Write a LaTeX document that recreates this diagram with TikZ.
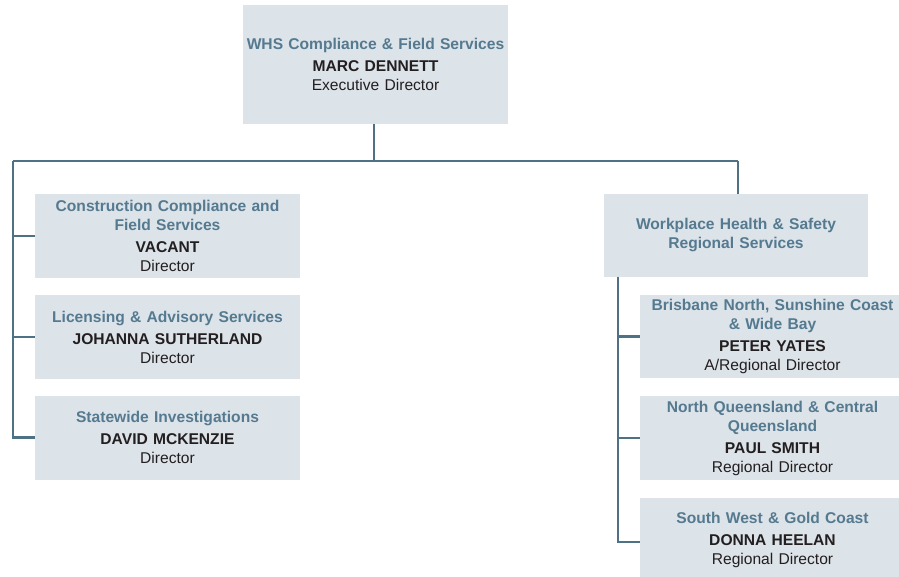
\documentclass[tikz,border=0pt]{standalone}
\usepackage{fontspec}
\setmainfont{Liberation Sans}
\definecolor{boxfill}{HTML}{DCE3E9}
\definecolor{titleblue}{HTML}{557A90}
\definecolor{linecol}{HTML}{4E7186}
\definecolor{namecol}{HTML}{231F20}
\tikzset{
  orgbox/.style={fill=boxfill, draw=none, minimum width=265pt, minimum height=84pt,
    text width=262pt, align=center, inner sep=0pt,
    font=\fontsize{15.6}{19}\selectfont, text=namecol},
  conn/.style={draw=linecol, line width=2.8pt},
}
\newcommand{\ttl}[1]{{\color{titleblue}\bfseries #1}}
\newcommand{\nm}[1]{{\bfseries #1}}
\begin{document}
\begin{tikzpicture}[x=1pt,y=-1pt]
\useasboundingbox (0,0) rectangle (899,577);
\clip (0,0) rectangle (899,577);
% top
\node[orgbox, minimum height=119pt] (top) at (375.5,64.5)
  {\ttl{WHS Compliance \& Field Services}\\[3pt]\nm{MARC DENNETT}\\Executive Director};
% left column
\node[orgbox] (c1) at (167.5,236)
  {\ttl{Construction Compliance and\\Field Services}\\[3pt]\nm{VACANT}\\Director};
\node[orgbox] (c2) at (167.5,337)
  {\ttl{Licensing \& Advisory Services}\\[3pt]\nm{JOHANNA SUTHERLAND}\\Director};
\node[orgbox] (c3) at (167.5,437.5)
  {\ttl{Statewide Investigations}\\[3pt]\nm{DAVID MCKENZIE}\\Director};
% right column
\node[orgbox, minimum width=264pt, minimum height=83pt] (whs) at (736,235.5)
  {\ttl{Workplace Health \& Safety\\Regional Services}};
\node[orgbox, minimum height=83pt] (r1) at (772.5,336.5)
  {\ttl{Brisbane North, Sunshine Coast\\\& Wide Bay}\\[3pt]\nm{PETER YATES}\\A/Regional Director};
\node[orgbox] (r2) at (772.5,438)
  {\ttl{North Queensland \& Central\\Queensland}\\[3pt]\nm{PAUL SMITH}\\Regional Director};
\node[orgbox] (r3) at (772.5,540)
  {\ttl{South West \& Gold Coast}\\[3pt]\nm{DONNA HEELAN}\\Regional Director};
% connectors
\coordinate (hub) at (374,161);
\coordinate (lt) at (13,161);
\coordinate (rt) at (738,161);
\coordinate (rv) at (618,277);
\draw[conn] (top.south -| hub) -- (hub);
\draw[conn] (lt) -- (rt);
\draw[conn] (rt) -- (rt |- whs.north);
\draw[conn] (lt) |- (c1.west);
\draw[conn] (lt) |- (c2.west);
\draw[conn] (lt) |- (c3.west);
\draw[conn] (rv) |- (r1.west);
\draw[conn] (rv) |- (r2.west);
\draw[conn] (rv) |- ([yshift=-2pt]r3.west);
\end{tikzpicture}
\end{document}
